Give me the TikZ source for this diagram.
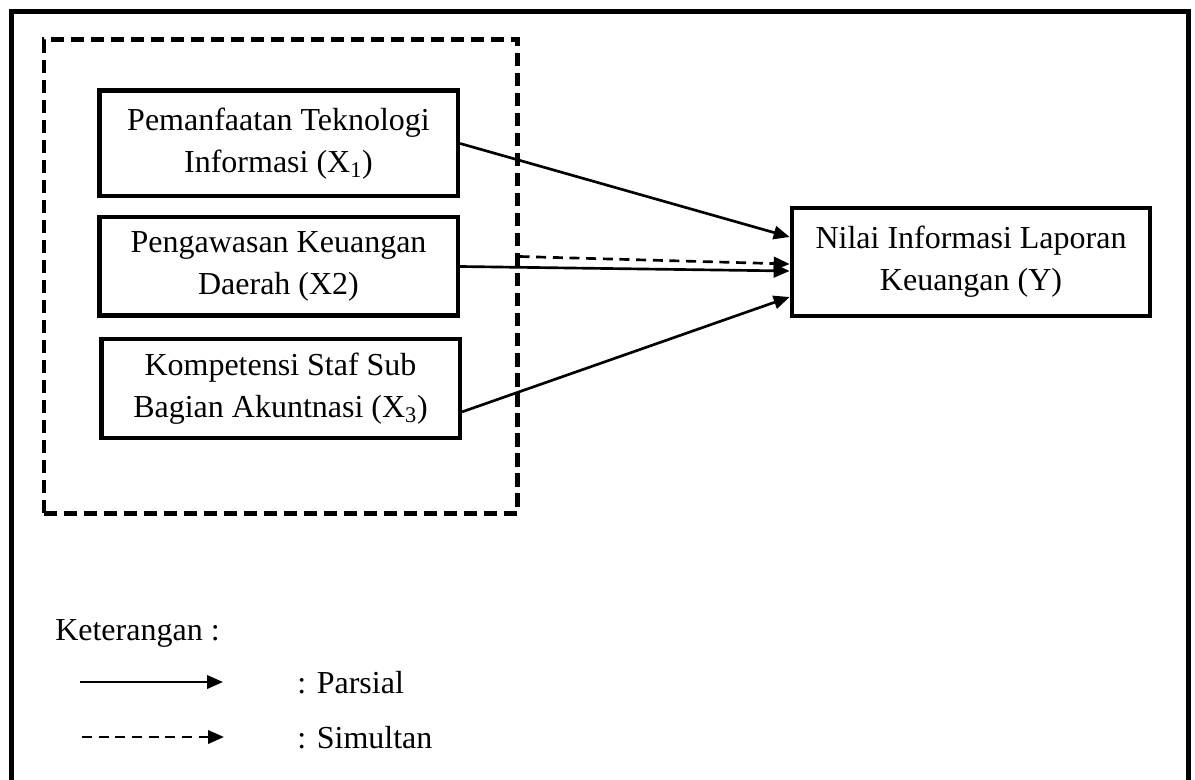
\documentclass[tikz,border=0pt]{standalone}
\usepackage{fontspec}
\setmainfont{Liberation Serif}
\usetikzlibrary{arrows.meta, positioning}
\tikzset{
    varbox/.style={draw, line width=3.5pt, minimum width=269pt, minimum height=74pt, inner sep=0pt, align=center},
    grpbox/.style={draw, line width=3.5pt, dash pattern=on 10pt off 5pt, minimum width=355pt, minimum height=355pt},
    partial/.style={line width=2pt, -{Triangle[length=12pt, width=10pt]}},
    simult/.style={partial, dash pattern=on 7.5pt off 5pt},
    every node/.append style={font=\fontsize{24}{31.5}\selectfont},
}

\begin{document}
\begin{tikzpicture}[x=0.75pt, y=-0.75pt]
    \useasboundingbox (0,0) rectangle (1195,780);
    \draw[line width=3.5pt] (11.5,785) -- (11.5,11.5) -- (1188.5,11.5) -- (1188.5,785);

    % variabel bebas
    \node[grpbox] (grp) at (280.5,276.5) {};
    \node[varbox, minimum height=79pt] (x1) at (278.5,143.5) {Pemanfaatan Teknologi\\Informasi (X\textsubscript{1})};
    \node[varbox] (x2) at (278.5,266.5) {Pengawasan Keuangan\\Daerah (X2)};
    \node[varbox] (x3) at (280.5,388.5) {Kompetensi Staf Sub\\Bagian Akuntnasi (X\textsubscript{3})};

    % variabel terikat
    \node[varbox, minimum width=268.5pt, minimum height=81pt] (y) at (971,262) {Nilai Informasi Laporan\\Keuangan (Y)};

    \draw[partial] (x1.east) -- ([yshift=18.75pt]y.west);
    \draw[simult] ([yshift=15pt]grp.east) -- ([yshift=-1.5pt]y.west);
    \draw[partial] (x2.east) -- ([yshift=-6.75pt]y.west);
    \draw[partial] ([yshift=-17.5pt]x3.east) -- ([yshift=-26.25pt]y.west);

    % keterangan
    \node[anchor=base west, inner sep=0pt] (ket) at (55,640) {Keterangan :};
    \coordinate (p1) at (80,682);
    \coordinate (p2) at (223,682);
    \coordinate (s1) at (82,737);
    \coordinate (s2) at (224,737);
    \draw[partial] (p1) -- (p2);
    \draw[simult] (s1) -- (s2);
    \node[anchor=base west, inner sep=0pt] (lp) at (297,693) {: Parsial};
    \node[anchor=base west, inner sep=0pt] (ls) at (297,748) {: Simultan};
\end{tikzpicture}
\end{document}
